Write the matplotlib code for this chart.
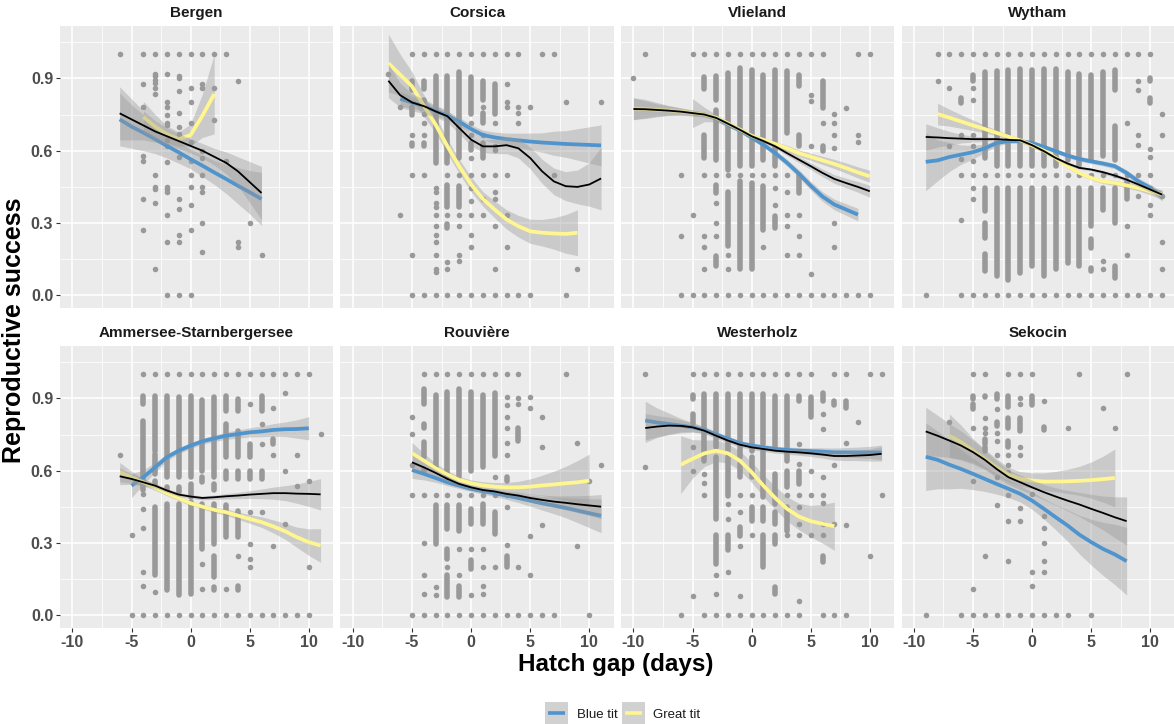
import matplotlib
matplotlib.use("Agg")
import matplotlib.pyplot as plt
from matplotlib.patches import Rectangle
from matplotlib.lines import Line2D

# ---------------- data ----------------
SITES = ["Bergen", "Corsica", "Vlieland", "Wytham",
         "Ammersee-Starnbergersee", "Rouvière", "Westerholz", "Sekocin"]
X_TICKS = [-10, -5, 0, 5, 10]
X_TICK_LABELS = ["-10", "-5", "0", "5", "10"]
Y_TICKS = [0.0, 0.3, 0.6, 0.9]
Y_TICK_LABELS = ["0.0", "0.3", "0.6", "0.9"]
SPECIES = ["Blue tit", "Great tit"]

# observed points: hatch gap -> list of reproductive success values;
# a tuple (lo, hi) is a dense run of overlapping observations
BERGEN_PTS = {
    -6: [1.0],
    -4: [1.0, 0.877, 0.78, 0.577, 0.556, 0.40, 0.273],
    -3: [1.0, 0.92, 0.91, 0.895, 0.88, 0.86, 0.835, 0.5, 0.45, 0.44, 0.385, 0.11],
    -2: [1.0, 0.92, 0.8, 0.78, 0.75, 0.715, 0.705, 0.645, 0.62, 0.555, 0.45, 0.44, 0.43, 0.333, 0.222, 0.0],
    -1: [1.0, 0.91, 0.9, 0.848, 0.755, 0.70, 0.67, 0.573, 0.4, 0.36, 0.25, 0.222, 0.0],
    0: [1.0, 0.86, 0.8, 0.714, 0.636, 0.556, 0.5, 0.45, 0.375, 0.273, 0.0],
    1: [1.0, 0.875, 0.86, 0.6, 0.57, 0.5, 0.45, 0.43, 0.3, 0.18],
    2: [1.0, 0.86, 0.727],
    3: [1.0, 0.556],
    4: [0.889, 0.222, 0.2],
    5: [0.3],
    6: [0.167],
}
CORSICA_PTS = {
    -7: [0.92],
    -6: [0.78, 0.333],
    -5: [1.0, (0.85, 0.89), (0.75, 0.78), 0.667, (0.62, 0.63), 0.5, 0.167, 0.0],
    -4: [1.0, (0.855, 0.89), (0.80, 0.81), 0.752, 0.715, 0.667, (0.62, 0.63), 0.5, 0.0],
    -3: [1.0, (0.55, 0.911), 0.446, 0.428, 0.384, 0.366, 0.335, 0.287, 0.25, 0.222, 0.167, 0.11, 0.097, 0.0],
    -2: [1.0, (0.55, 0.911), 0.5, (0.366, 0.456), 0.335, (0.28, 0.298), 0.139, 0.11, 0.0],
    -1: [1.0, (0.57, 0.925), 0.5, (0.366, 0.453), 0.335, 0.287, 0.167, 0.142, 0.0],
    0: [1.0, (0.752, 0.904), 0.715, 0.667, (0.605, 0.632), 0.57, 0.5, 0.446, 0.391, 0.335, 0.25, 0.202, 0.0],
    1: [1.0, (0.812, 0.888), 0.78, (0.715, 0.756), 0.667, (0.57, 0.632), 0.5, 0.398, 0.335, 0.0],
    2: [1.0, (0.752, 0.877), 0.715, 0.621, 0.605, 0.5, 0.428, 0.40, 0.287, 0.11, 0.0],
    3: [1.0, 0.877, 0.801, 0.78, 0.5, 0.335, 0.202, 0.0],
    4: [1.0, 0.78, 0.756, 0.715, 0.0],
    5: [0.78, 0.0],
    6: [1.0],
    7: [1.0, 0.5],
    8: [0.801, 0.0],
    9: [0.11],
    11: [0.801],
}
VLIELAND_PTS = {
    -10: [0.9],
    -9: [1.0],
    -6: [0.5, 0.248, 0.0],
    -5: [1.0, 0.335, 0.0],
    -4: [1.0, (0.856, 0.904), (0.57, 0.667), 0.5, 0.248, 0.202, 0.11, 0.0],
    -3: [1.0, (0.812, 0.908), (0.563, 0.77), 0.5, (0.425, 0.456), 0.384, 0.301, 0.248, (0.124, 0.163), 0.0],
    -2: [1.0, (0.522, 0.922), 0.5, (0.204, 0.43), 0.166, 0.11, 0.0],
    -1: [1.0, (0.536, 0.943), 0.5, (0.108, 0.473), 0.0],
    0: [1.0, (0.536, 0.933), 0.5, (0.108, 0.467), 0.0],
    1: [1.0, (0.563, 0.915), 0.5, (0.273, 0.453), 0.202, 0.0],
    2: [1.0, (0.536, 0.936), 0.5, 0.446, 0.377, (0.28, 0.329), 0.0],
    3: [1.0, (0.674, 0.929), 0.5, 0.428, 0.335, 0.287, 0.166, 0.0],
    4: [1.0, (0.867, 0.915), (0.621, 0.667), (0.425, 0.501), 0.335, 0.248, 0.166, 0.0],
    5: [1.0, 0.832, 0.805, 0.618, 0.091, 0.0],
    6: [1.0, (0.777, 0.89), 0.715, (0.598, 0.621), 0.0],
    7: [0.752, 0.715, 0.667, 0.612, 0.301, 0.202, 0.0],
    8: [0.777, 0.0],
    9: [1.0, 0.667, 0.636, 0.0],
    10: [1.0, 0.0],
}
WYTHAM_PTS = {
    -9: [0.0],
    -8: [1.0, 0.89],
    -7: [1.0, 0.86, 0.618],
    -6: [1.0, (0.798, 0.819), 0.667, 0.566, 0.5, 0.312, 0.0],
    -5: [1.0, (0.888, 0.915), 0.86, 0.812, 0.667, 0.618, 0.556, 0.5, 0.446, 0.40, 0.0],
    -4: [1.0, (0.57, 0.925), 0.5, (0.35, 0.446), (0.24, 0.30), (0.10, 0.17), 0.0],
    -3: [1.0, (0.536, 0.929), 0.5, (0.081, 0.446), 0.0],
    -2: [1.0, (0.536, 0.933), 0.5, (0.066, 0.446), 0.0],
    -1: [1.0, (0.536, 0.939), 0.5, (0.094, 0.446), 0.0],
    0: [1.0, (0.536, 0.936), 0.5, (0.121, 0.446), 0.0],
    1: [1.0, (0.536, 0.939), 0.5, (0.08, 0.446), 0.0],
    2: [1.0, (0.536, 0.939), 0.5, (0.108, 0.446), 0.0],
    3: [1.0, (0.563, 0.925), 0.5, (0.135, 0.446), 0.0],
    4: [1.0, (0.536, 0.919), 0.5, (0.121, 0.446), 0.0],
    5: [1.0, (0.563, 0.915), 0.5, (0.287, 0.446), (0.197, 0.232), (0.101, 0.115), 0.0],
    6: [1.0, (0.577, 0.925), 0.5, (0.356, 0.446), 0.142, 0.11, 0.0],
    7: [1.0, (0.853, 0.936), (0.563, 0.701), 0.5, (0.30, 0.446), (0.073, 0.121), 0.0],
    8: [1.0, 0.715, 0.5, (0.398, 0.474), 0.287, 0.166, 0.0],
    9: [1.0, 0.89, 0.853, 0.667, 0.625, 0.5, 0.411, 0.0],
    10: [1.0, (0.888, 0.901), (0.798, 0.819), 0.607, 0.574, 0.5, 0.446, 0.377, 0.335, 0.0],
    11: [0.752, 0.667, 0.411, 0.222, 0.11, 0.0],
}
AMMERSEE_PTS = {
    -6: [0.667],
    -5: [0.333, 0.0],
    -4: [1.0, (0.877, 0.911), (0.518, 0.808), 0.504, 0.442, 0.363, 0.179, 0.123, 0.0],
    -3: [1.0, (0.683, 0.911), (0.587, 0.67), (0.538, 0.559), (0.166, 0.449), 0.097, 0.0],
    -2: [1.0, (0.573, 0.911), (0.511, 0.531), (0.104, 0.462), 0.0],
    -1: [1.0, (0.573, 0.907), (0.511, 0.531), (0.083, 0.462), 0.0],
    0: [1.0, (0.573, 0.911), (0.49, 0.545), (0.09, 0.469), 0.0],
    1: [1.0, (0.6, 0.893), (0.552, 0.573), (0.276, 0.462), 0.214, 0.11, 0.0],
    2: [1.0, (0.573, 0.907), (0.518, 0.545), (0.297, 0.462), (0.159, 0.248), (0.104, 0.117), 0.0],
    3: [1.0, (0.849, 0.911), (0.656, 0.794), (0.566, 0.6), (0.324, 0.456), 0.11, 0.0],
    4: [1.0, (0.849, 0.897), (0.656, 0.766), (0.566, 0.6), (0.324, 0.435), 0.248, (0.104, 0.123), 0.0],
    5: [1.0, 0.877, (0.656, 0.711), (0.566, 0.6), 0.428, 0.297, 0.235, 0.2, 0.0],
    6: [1.0, (0.849, 0.911), 0.794, 0.711, (0.566, 0.6), 0.428, 0.0],
    7: [1.0, 0.859, (0.711, 0.732), 0.665, 0.286, 0.0],
    8: [1.0, 0.923, 0.6, 0.38, 0.0],
    9: [1.0, 0.665, 0.538, 0.0],
    10: [1.0, 0.556, 0.2, 0.0],
    11: [0.752],
}
ROUVIERE_PTS = {
    -5: [0.821, 0.752, 0.625, 0.501, 0.0],
    -4: [1.0, (0.877, 0.939), (0.777, 0.794), (0.656, 0.718), (0.594, 0.607), 0.501, 0.3, 0.166, 0.09, 0.0],
    -3: [1.0, (0.614, 0.915), 0.501, (0.297, 0.456), 0.117, 0.083, 0.0],
    -2: [1.0, (0.573, 0.925), 0.501, (0.359, 0.456), (0.235, 0.276), 0.2, (0.076, 0.166), 0.0],
    -1: [1.0, (0.573, 0.939), 0.501, (0.352, 0.456), 0.276, 0.166, (0.076, 0.124), 0.0],
    0: [1.0, (0.6, 0.925), 0.501, (0.38, 0.442), 0.276, (0.193, 0.228), 0.083, 0.0],
    1: [1.0, (0.614, 0.915), 0.501, (0.38, 0.462), 0.276, 0.2, 0.124, 0.09, 0.0],
    2: [1.0, (0.663, 0.921), 0.576, 0.501, (0.338, 0.428), 0.2, 0.0],
    3: [1.0, 0.904, 0.874, 0.821, 0.777, 0.714, 0.665, (0.556, 0.576), 0.501, 0.451, 0.29, (0.2, 0.248), 0.0],
    4: [1.0, 0.901, 0.877, (0.725, 0.777), 0.2, 0.0],
    5: [0.907, 0.859, 0.331, 0.166, 0.0],
    6: [0.821, 0.7, 0.377, 0.0],
    7: [0.0],
    8: [1.0],
    9: [0.714, 0.286],
    10: [0.556, 0.0],
    11: [0.625],
}
WESTERHOLZ_PTS = {
    -9: [1.0, 0.617],
    -6: [0.0],
    -5: [1.0, (0.897, 0.915), (0.794, 0.835), 0.7, 0.6, 0.079],
    -4: [1.0, (0.642, 0.918), 0.587, 0.548, 0.501, 0.0],
    -3: [1.0, (0.697, 0.918), (0.4, 0.656), (0.214, 0.335), 0.166, 0.09, 0.0],
    -2: [1.0, (0.683, 0.918), (0.497, 0.656), 0.462, 0.4, (0.272, 0.335), 0.179, 0.0],
    -1: [1.0, (0.656, 0.918), (0.573, 0.628), 0.501, 0.428, (0.331, 0.366), 0.286, 0.079, 0.0],
    0: [1.0, (0.683, 0.918), (0.573, 0.656), 0.501, (0.393, 0.449), 0.335, 0.0],
    1: [1.0, (0.711, 0.918), (0.49, 0.683), (0.393, 0.449), (0.2, 0.335), 0.0],
    2: [1.0, (0.697, 0.911), (0.462, 0.587), (0.38, 0.428), (0.297, 0.335), (0.09, 0.117), 0.0],
    3: [1.0, (0.642, 0.911), (0.531, 0.6), 0.501, (0.352, 0.449), 0.335, 0.0],
    4: [1.0, (0.89, 0.911), 0.711, 0.628, (0.545, 0.6), 0.501, 0.449, 0.38, 0.335, 0.059, 0.0],
    5: [1.0, (0.821, 0.904), 0.6, 0.501, 0.335],
    6: [(0.89, 0.921), 0.835, 0.773, 0.576, 0.501, 0.465, 0.38, 0.335, (0.221, 0.248), 0.0],
    7: [1.0, (0.874, 0.89), 0.625, 0.38, 0.0],
    8: [1.0, (0.859, 0.89), 0.714, 0.377, 0.0],
    9: [0.801],
    10: [1.0, 0.248],
    11: [1.0, 0.501],
}
SEKOCIN_PTS = {
    -9: [0.0],
    -7: [0.8],
    -6: [0.0],
    -5: [1.0, (0.897, 0.911), (0.856, 0.877), 0.777, 0.556, 0.11, 0.0],
    -4: [1.0, (0.904, 0.911), 0.819, 0.777, 0.755, (0.711, 0.732), (0.683, 0.697), 0.248, 0.0],
    -3: [(0.897, 0.918), 0.856, (0.787, 0.801), 0.755, 0.725, 0.665, 0.576, 0.456, 0.0],
    -2: [1.0, (0.863, 0.911), (0.777, 0.819), (0.697, 0.725), 0.665, 0.625, 0.594, 0.501, 0.393, 0.225, 0.0],
    -1: [1.0, 0.901, 0.877, (0.766, 0.819), 0.7, 0.665, 0.446, 0.393, 0.0],
    0: [1.0, (0.874, 0.911), 0.504, 0.179, 0.124, 0.0],
    1: [0.89, (0.769, 0.78), 0.414, 0.363, 0.3, 0.225, 0.179, 0.0],
    2: [0.0],
    3: [0.777, 0.0],
    4: [1.0],
    5: [0.0],
    6: [0.859],
    7: [0.777],
    8: [1.0],
}

# smoothed fits: (first hatch gap, fitted values at consecutive days, standard-error half widths)
BERGEN_FIT = {
    "blue": (-6, [0.73, 0.70, 0.675, 0.648, 0.62, 0.593, 0.565, 0.538, 0.51, 0.483, 0.455, 0.428, 0.40],
             [0.11, 0.09, 0.075, 0.06, 0.05, 0.045, 0.04, 0.045, 0.05, 0.06, 0.075, 0.09, 0.11]),
    "great": (-4, [0.74, 0.70, 0.668, 0.648, 0.665, 0.745, 0.835],
              [0.065, 0.05, 0.035, 0.03, 0.045, 0.09, 0.165]),
    "all": (-6, [0.755, 0.73, 0.705, 0.68, 0.66, 0.64, 0.62, 0.60, 0.575, 0.55, 0.515, 0.47, 0.425],
            [0.11, 0.085, 0.06, 0.045, 0.035, 0.03, 0.03, 0.03, 0.035, 0.045, 0.06, 0.085, 0.11]),
}
CORSICA_FIT = {
    "blue": (-6, [0.815, 0.80, 0.785, 0.765, 0.745, 0.72, 0.69, 0.665, 0.655, 0.648, 0.643, 0.638, 0.634, 0.631, 0.628, 0.626, 0.624, 0.622],
             [0.03, 0.025, 0.02, 0.02, 0.018, 0.018, 0.018, 0.02, 0.022, 0.025, 0.03, 0.035, 0.04, 0.05, 0.055, 0.065, 0.075, 0.085]),
    "great": (-7, [0.963, 0.915, 0.867, 0.787, 0.708, 0.618, 0.535, 0.46, 0.40, 0.356, 0.315, 0.287, 0.266, 0.26, 0.257, 0.255, 0.26],
              [0.12, 0.085, 0.06, 0.045, 0.035, 0.03, 0.03, 0.03, 0.03, 0.035, 0.04, 0.045, 0.05, 0.055, 0.065, 0.08, 0.095]),
    "all": (-7, [0.89, 0.83, 0.80, 0.785, 0.763, 0.743, 0.694, 0.646, 0.618, 0.618, 0.623, 0.61, 0.57, 0.515, 0.473, 0.453, 0.45, 0.46, 0.485],
            [0.07, 0.05, 0.035, 0.03, 0.025, 0.025, 0.025, 0.025, 0.025, 0.03, 0.035, 0.04, 0.045, 0.05, 0.055, 0.06, 0.07, 0.09, 0.13]),
}
VLIELAND_FIT = {
    "blue": (-5, [0.756, 0.75, 0.735, 0.708, 0.685, 0.655, 0.625, 0.59, 0.55, 0.505, 0.455, 0.41, 0.377, 0.356, 0.335],
             [0.06, 0.03, 0.015, 0.01, 0.01, 0.01, 0.01, 0.012, 0.014, 0.016, 0.018, 0.02, 0.022, 0.024, 0.026]),
    "great": (-10, [0.775, 0.773, 0.77, 0.767, 0.763, 0.757, 0.75, 0.737, 0.713, 0.688, 0.662, 0.645, 0.628, 0.61, 0.59, 0.575, 0.56, 0.545, 0.528, 0.51, 0.494],
              [0.045, 0.04, 0.03, 0.02, 0.015, 0.012, 0.01, 0.01, 0.01, 0.01, 0.01, 0.01, 0.01, 0.012, 0.013, 0.015, 0.017, 0.019, 0.021, 0.023, 0.025]),
    "all": (-10, [0.773, 0.772, 0.769, 0.766, 0.762, 0.756, 0.75, 0.736, 0.712, 0.687, 0.66, 0.64, 0.618, 0.59, 0.563, 0.536, 0.508, 0.483, 0.466, 0.45, 0.432],
            [0.045, 0.035, 0.025, 0.02, 0.015, 0.012, 0.01, 0.008, 0.008, 0.008, 0.008, 0.008, 0.008, 0.01, 0.012, 0.014, 0.016, 0.018, 0.02, 0.022, 0.025]),
}
WYTHAM_FIT = {
    "blue": (-9, [0.554, 0.56, 0.574, 0.584, 0.594, 0.61, 0.632, 0.64, 0.64, 0.632, 0.616, 0.598, 0.58, 0.566, 0.556, 0.547, 0.536, 0.508, 0.473, 0.446, 0.411],
             [0.12, 0.085, 0.06, 0.04, 0.028, 0.018, 0.012, 0.01, 0.009, 0.009, 0.009, 0.009, 0.009, 0.009, 0.01, 0.01, 0.011, 0.012, 0.013, 0.015, 0.02]),
    "great": (-8, [0.752, 0.737, 0.721, 0.705, 0.69, 0.674, 0.658, 0.643, 0.622, 0.60, 0.57, 0.535, 0.508, 0.487, 0.473, 0.467, 0.456, 0.446, 0.432, 0.418],
              [0.045, 0.035, 0.028, 0.022, 0.016, 0.012, 0.01, 0.008, 0.008, 0.008, 0.008, 0.008, 0.008, 0.008, 0.009, 0.01, 0.011, 0.012, 0.015, 0.02]),
    "all": (-9, [0.657, 0.655, 0.652, 0.65, 0.648, 0.648, 0.648, 0.645, 0.643, 0.623, 0.598, 0.57, 0.547, 0.529, 0.522, 0.511, 0.497, 0.48, 0.46, 0.439, 0.418],
            [0.055, 0.04, 0.028, 0.018, 0.012, 0.009, 0.007, 0.006, 0.006, 0.006, 0.006, 0.006, 0.006, 0.006, 0.006, 0.007, 0.007, 0.008, 0.009, 0.011, 0.014]),
}
AMMERSEE_FIT = {
    "blue": (-5, [0.538, 0.573, 0.614, 0.656, 0.683, 0.704, 0.722, 0.734, 0.745, 0.752, 0.759, 0.763, 0.769, 0.772, 0.773, 0.776],
             [0.05, 0.03, 0.02, 0.015, 0.012, 0.012, 0.012, 0.013, 0.015, 0.017, 0.019, 0.022, 0.026, 0.03, 0.038, 0.048]),
    "great": (-6, [0.594, 0.573, 0.552, 0.531, 0.507, 0.486, 0.465, 0.451, 0.438, 0.428, 0.414, 0.40, 0.387, 0.369, 0.349, 0.324, 0.304, 0.29],
              [0.04, 0.025, 0.015, 0.012, 0.01, 0.01, 0.01, 0.01, 0.011, 0.013, 0.015, 0.018, 0.022, 0.027, 0.033, 0.042, 0.055, 0.07]),
    "all": (-6, [0.577, 0.566, 0.552, 0.538, 0.518, 0.501, 0.493, 0.487, 0.49, 0.494, 0.497, 0.501, 0.504, 0.507, 0.507, 0.505, 0.504, 0.502],
            [0.035, 0.022, 0.014, 0.01, 0.008, 0.008, 0.008, 0.008, 0.009, 0.011, 0.013, 0.016, 0.02, 0.025, 0.031, 0.04, 0.052, 0.065]),
}
ROUVIERE_FIT = {
    "blue": (-5, [0.603, 0.587, 0.57, 0.552, 0.538, 0.525, 0.515, 0.507, 0.497, 0.487, 0.476, 0.465, 0.456, 0.446, 0.435, 0.424, 0.413],
             [0.035, 0.025, 0.018, 0.014, 0.012, 0.012, 0.012, 0.014, 0.016, 0.019, 0.023, 0.028, 0.034, 0.041, 0.05, 0.06, 0.07]),
    "great": (-5, [0.672, 0.642, 0.61, 0.584, 0.562, 0.548, 0.539, 0.534, 0.531, 0.531, 0.534, 0.539, 0.543, 0.548, 0.552, 0.559],
              [0.045, 0.03, 0.02, 0.016, 0.014, 0.014, 0.015, 0.017, 0.02, 0.025, 0.032, 0.042, 0.055, 0.07, 0.09, 0.11]),
    "all": (-5, [0.635, 0.614, 0.591, 0.566, 0.545, 0.531, 0.52, 0.514, 0.504, 0.497, 0.487, 0.479, 0.472, 0.467, 0.461, 0.456, 0.451],
            [0.03, 0.02, 0.014, 0.011, 0.01, 0.01, 0.01, 0.011, 0.012, 0.014, 0.017, 0.02, 0.024, 0.029, 0.035, 0.042, 0.05]),
}
WESTERHOLZ_FIT = {
    "blue": (-9, [0.808, 0.80, 0.794, 0.787, 0.78, 0.769, 0.75, 0.732, 0.714, 0.704, 0.697, 0.69, 0.686, 0.683, 0.681, 0.679, 0.676, 0.676, 0.676, 0.676, 0.676],
             [0.08, 0.06, 0.045, 0.03, 0.02, 0.014, 0.012, 0.011, 0.011, 0.011, 0.011, 0.011, 0.012, 0.013, 0.014, 0.016, 0.018, 0.02, 0.022, 0.025, 0.03]),
    "great": (-6, [0.625, 0.649, 0.672, 0.683, 0.672, 0.642, 0.594, 0.538, 0.487, 0.442, 0.41, 0.391, 0.38, 0.37],
              [0.12, 0.08, 0.055, 0.045, 0.04, 0.04, 0.042, 0.045, 0.048, 0.05, 0.055, 0.065, 0.08, 0.1]),
    "all": (-9, [0.777, 0.783, 0.787, 0.786, 0.78, 0.766, 0.745, 0.725, 0.708, 0.697, 0.69, 0.683, 0.679, 0.676, 0.672, 0.667, 0.661, 0.661, 0.663, 0.665, 0.67],
            [0.06, 0.045, 0.035, 0.025, 0.018, 0.013, 0.011, 0.01, 0.01, 0.01, 0.01, 0.01, 0.011, 0.012, 0.013, 0.015, 0.017, 0.019, 0.021, 0.025, 0.03]),
}
SEKOCIN_FIT = {
    "blue": (-9, [0.658, 0.645, 0.625, 0.607, 0.587, 0.566, 0.545, 0.525, 0.504, 0.476, 0.442, 0.407, 0.373, 0.335, 0.304, 0.276, 0.253, 0.225],
             [0.14, 0.12, 0.10, 0.08, 0.065, 0.052, 0.042, 0.036, 0.034, 0.036, 0.042, 0.052, 0.065, 0.08, 0.095, 0.11, 0.125, 0.14]),
    "great": (-7, [0.745, 0.718, 0.683, 0.649, 0.614, 0.584, 0.566, 0.559, 0.555, 0.555, 0.556, 0.558, 0.561, 0.565, 0.57],
              [0.09, 0.07, 0.05, 0.04, 0.035, 0.03, 0.03, 0.032, 0.036, 0.042, 0.05, 0.06, 0.075, 0.095, 0.12]),
    "all": (-9, [0.763, 0.745, 0.725, 0.704, 0.677, 0.645, 0.607, 0.573, 0.552, 0.531, 0.511, 0.493, 0.476, 0.46, 0.442, 0.425, 0.407, 0.391],
            [0.10, 0.085, 0.07, 0.06, 0.05, 0.04, 0.035, 0.03, 0.03, 0.03, 0.032, 0.036, 0.042, 0.05, 0.06, 0.07, 0.085, 0.10]),
}

POINTS = [BERGEN_PTS, CORSICA_PTS, VLIELAND_PTS, WYTHAM_PTS,
          AMMERSEE_PTS, ROUVIERE_PTS, WESTERHOLZ_PTS, SEKOCIN_PTS]
FITS = [BERGEN_FIT, CORSICA_FIT, VLIELAND_FIT, WYTHAM_FIT,
        AMMERSEE_FIT, ROUVIERE_FIT, WESTERHOLZ_FIT, SEKOCIN_FIT]

# ---------------- style ----------------
W, H = 1174, 724
BLUE = "#4F94CD"
YELLOW = "#FFF68F"
PT_COL = "#999999"
PANEL_BG = "#EBEBEB"
FONT = "Liberation Sans"
DOT_D = 4.0  # points
LINE_STYLE = {"blue": (BLUE, 2.7), "great": (YELLOW, 2.7), "all": ("black", 1.3)}

fig = plt.figure(figsize=(W / 100, H / 100), dpi=100)
fig.patch.set_facecolor("white")

col_left = [60, 340.5, 621, 901.5]
row_top = [26, 346]
pw, ph = 273, 282

for i, site in enumerate(SITES):
    r, c = divmod(i, 4)
    ax = fig.add_axes([col_left[c] / W, 1 - (row_top[r] + ph) / H, pw / W, ph / H])
    ax.set_facecolor(PANEL_BG)
    ax.set_xlim(-11.05, 12.05)
    ax.set_ylim(-0.052, 1.117)
    for s in ax.spines.values():
        s.set_visible(False)
    ax.set_xticks(X_TICKS)
    ax.set_yticks(Y_TICKS)
    ax.set_xticks([-7.5, -2.5, 2.5, 7.5], minor=True)
    ax.set_yticks([0.15, 0.45, 0.75, 1.05], minor=True)
    ax.grid(True, which="major", color="white", lw=1.1)
    ax.grid(True, which="minor", color="white", lw=0.55)
    ax.set_axisbelow(True)
    ax.tick_params(which="minor", length=0)
    ax.tick_params(which="major", length=2.9, width=0.8, color="#333333",
                   labelcolor="#4D4D4D", pad=2.0)
    if c == 0:
        ax.set_yticklabels(Y_TICK_LABELS, fontfamily=FONT, fontweight="bold", fontsize=11.5)
    else:
        ax.tick_params(axis="y", which="major", length=0, labelleft=False)
    if r == 1:
        ax.set_xticklabels(X_TICK_LABELS, fontfamily=FONT, fontweight="bold", fontsize=11.5)
    else:
        ax.tick_params(axis="x", which="major", length=0, labelbottom=False)

    # points
    sx, sy, vx, vlo, vhi = [], [], [], [], []
    for xv, vals in POINTS[i].items():
        for v in vals:
            if isinstance(v, tuple):
                vx.append(xv); vlo.append(v[0]); vhi.append(v[1])
            else:
                sx.append(xv); sy.append(v)
    ax.scatter(sx, sy, s=DOT_D ** 2, color=PT_COL, linewidths=0, zorder=2)
    lc = ax.vlines(vx, vlo, vhi, colors=PT_COL, linewidth=DOT_D, zorder=2)
    lc.set_capstyle("round")

    # smooths: ribbon then line for each group
    z = 3
    for key in ["blue", "great", "all"]:
        x0, ys, se = FITS[i][key]
        xs = list(range(x0, x0 + len(ys)))
        lo = [y - e for y, e in zip(ys, se)]
        hi = [y + e for y, e in zip(ys, se)]
        ax.fill_between(xs, lo, hi, color="#999999", alpha=0.4, lw=0, zorder=z)
        colr, lw = LINE_STYLE[key]
        ax.plot(xs, ys, color=colr, lw=lw, solid_capstyle="butt", zorder=z + 0.5)
        z += 1

    # strip title
    fig.text((col_left[c] + pw / 2) / W, 1 - (row_top[r] - 13) / H, site,
             ha="center", va="center", fontfamily=FONT, fontweight="bold",
             fontsize=11, color="#1A1A1A")

fig.text(616 / W, 1 - 665 / H, "Hatch gap (days)", ha="center", va="center",
         fontfamily=FONT, fontweight="bold", fontsize=17.5, color="black")
fig.text(14 / W, 1 - 330 / H, "Reproductive success", ha="center", va="center",
         rotation=90, fontfamily=FONT, fontweight="bold", fontsize=18, color="black")

# legend
key_x = [545, 622]
text_x = [577, 653]
for kx, tx, lab, colr in zip(key_x, text_x, SPECIES, [BLUE, YELLOW]):
    fig.add_artist(Rectangle((kx / W, 1 - 725 / H), 23 / W, 23 / H,
                             transform=fig.transFigure, facecolor="#D1D1D1",
                             edgecolor="none"))
    fig.add_artist(Line2D([(kx + 3) / W, (kx + 20) / W], [1 - 713 / H, 1 - 713 / H],
                          transform=fig.transFigure, color=colr, lw=2.6,
                          solid_capstyle="butt"))
    fig.text(tx / W, 1 - 715 / H, lab, ha="left", va="center",
             fontfamily=FONT, fontsize=9.5, color="#1A1A1A")

fig.savefig("out.png", dpi=100, facecolor="white")
